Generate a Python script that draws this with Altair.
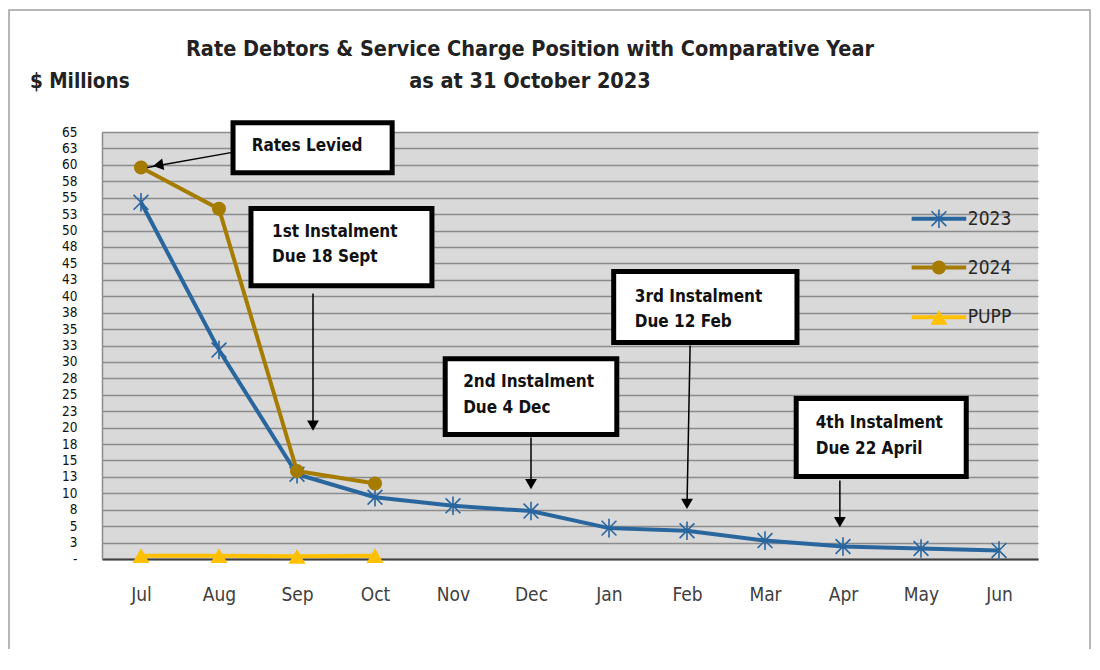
import altair as alt
import pandas as pd

months = ["Jul", "Aug", "Sep", "Oct", "Nov", "Dec", "Jan", "Feb", "Mar", "Apr", "May", "Jun"]
y2023 = [54.3, 31.8, 12.9, 9.4, 8.1, 7.3, 4.7, 4.3, 2.8, 1.9, 1.6, 1.3]
y2024 = [59.6, 53.3, 13.4, 11.5]
pupp = [0.5, 0.5, 0.4, 0.5]

series_names = ["2023", "2024", "PUPP"]
series_colors = ["#2a669e", "#a67c00", "#ffc000"]

# annotation boxes (x in month index units, y in $ millions)
box_x1 = [1.18, 1.41, 3.90, 6.06, 8.40]
box_x2 = [3.22, 3.73, 6.10, 8.41, 10.58]
box_y1 = [66.4, 53.35, 30.5, 43.76, 24.43]
box_y2 = [58.8, 41.6, 18.95, 32.95, 12.56]

label_text = ["1st Instalment", "Due 18 Sept", "2nd Instalment", "Due 4 Dec",
              "3rd Instalment", "Due 12 Feb", "4th Instalment", "Due 22 April"]
label_x = [1.68, 1.68, 4.13, 4.13, 6.33, 6.33, 8.65, 8.65]
label_y = [49.85, 46.0, 27.0, 23.06, 39.95, 36.15, 20.7, 16.7]

rates_text = ["Rates Levied"]
rates_x = [2.13]
rates_y = [62.9]

arrow_x1 = [1.17, 2.205, 5.0, 7.04, 8.96]
arrow_y1 = [61.9, 40.4, 18.5, 32.5, 11.95]
arrow_x2 = [0.08, 2.205, 5.0, 7.0, 8.96]
arrow_y2 = [59.6, 20.0, 11.0, 8.1, 5.3]
head_x = [0.22, 2.205, 5.0, 7.0, 8.96]
head_y = [59.95, 20.3, 11.4, 8.4, 5.6]
head_angle = [260, 180, 180, 180, 180]

legend_x1 = [9.88, 9.88, 9.88]
legend_x2 = [10.58, 10.58, 10.58]
legend_xm = [10.23, 10.23, 10.23]
legend_y = [51.8, 44.37, 36.8]
legend_tx = [10.6, 10.6, 10.6]

y_ticks = [i * 2.5 for i in range(27)]

FONT = "Liberation Sans Narrow, DejaVu Sans Condensed, Liberation Sans"
ASTERISK = "M-1,-1L1,1M-1,1L1,-1M0,-1.25L0,1.25"

rows = []
for i, v in enumerate(y2023):
    rows.append({"idx": i, "value": v, "series": "2023"})
for i, v in enumerate(y2024):
    rows.append({"idx": i, "value": v, "series": "2024"})
for i, v in enumerate(pupp):
    rows.append({"idx": i, "value": v, "series": "PUPP"})
df = pd.DataFrame(rows)

xscale = alt.Scale(domain=[-0.5, 11.5], nice=False, zero=False)
yscale = alt.Scale(domain=[0, 65], nice=False)
month_expr = "[" + ",".join("'%s'" % m for m in months) + "][datum.value]"

xaxis = alt.Axis(values=list(range(12)), labelExpr=month_expr, grid=False,
                 ticks=False, domainColor="#404040", domainWidth=2,
                 labelFontSize=19, labelColor="#404040", labelPadding=26,
                 labelFont=FONT, title=None)
yaxis = alt.Axis(values=y_ticks,
                 labelExpr="datum.value == 0 ? '-' : format(round(datum.value), 'd')",
                 labelOverlap=False, grid=True, gridColor="#8c8c8c", gridWidth=1.5,
                 ticks=False, domainColor="#8c8c8c", domainWidth=1.5,
                 labelFontSize=13.5, labelColor="#111111", labelPadding=25,
                 labelFont=FONT, labelBaseline="middle", title=None)


def X(f):
    return alt.X(f + ":Q", scale=xscale, axis=xaxis, title=None)


def Y(f):
    return alt.Y(f + ":Q", scale=yscale, axis=yaxis, title=None)


def X2(f):
    return alt.X2(f + ":Q")


def Y2(f):
    return alt.Y2(f + ":Q")


color = alt.Color("series:N", scale=alt.Scale(domain=series_names, range=series_colors), legend=None)

lines = alt.Chart(df).mark_line(strokeWidth=4).encode(x=X("idx"), y=Y("value"), color=color)

p23 = alt.Chart(df[df.series == "2023"]).mark_point(
    shape=ASTERISK, filled=False, size=220, strokeWidth=1.6, color=series_colors[0], opacity=1
).encode(x=X("idx"), y=Y("value"))
p24 = alt.Chart(df[df.series == "2024"]).mark_point(
    shape="circle", filled=True, size=200, color=series_colors[1], opacity=1
).encode(x=X("idx"), y=Y("value"))
pp = alt.Chart(df[df.series == "PUPP"]).mark_point(
    shape="triangle-up", filled=True, size=290, color=series_colors[2], opacity=1
).encode(x=X("idx"), y=Y("value"))

boxes_df = pd.DataFrame({"x1": box_x1, "x2": box_x2, "y1": box_y1, "y2": box_y2})
boxes = alt.Chart(boxes_df).mark_rect(fill="white", stroke="black", strokeWidth=5).encode(
    x=X("x1"), x2=X2("x2"), y=Y("y1"), y2=Y2("y2"))

labels_df = pd.DataFrame({"t": label_text, "x": label_x, "y": label_y})
labels = alt.Chart(labels_df).mark_text(
    align="left", baseline="middle", font=FONT, fontSize=17, fontWeight="bold", color="#111111"
).encode(x=X("x"), y=Y("y"), text="t:N")

rates_df = pd.DataFrame({"t": rates_text, "x": rates_x, "y": rates_y})
rates = alt.Chart(rates_df).mark_text(
    align="center", baseline="middle", font=FONT, fontSize=17, fontWeight="bold", color="#111111"
).encode(x=X("x"), y=Y("y"), text="t:N")

arrows_df = pd.DataFrame({"x1": arrow_x1, "y1": arrow_y1, "x2": arrow_x2, "y2": arrow_y2,
                          "hx": head_x, "hy": head_y, "ang": head_angle})
arrow_lines = alt.Chart(arrows_df).mark_rule(color="black", strokeWidth=1.5).encode(
    x=X("x1"), y=Y("y1"), x2=X2("x2"), y2=Y2("y2"))
arrow_heads = alt.Chart(arrows_df).mark_point(
    shape="triangle-up", filled=True, color="black", size=140, opacity=1
).encode(x=X("hx"), y=Y("hy"), angle=alt.Angle("ang:Q", scale=None))

leg_df = pd.DataFrame({"series": series_names, "x1": legend_x1, "x2": legend_x2,
                       "xm": legend_xm, "y": legend_y, "tx": legend_tx})
leg_lines = alt.Chart(leg_df).mark_rule(strokeWidth=4).encode(
    x=X("x1"), x2=X2("x2"), y=Y("y"), color=color)
leg_p23 = alt.Chart(leg_df[leg_df.series == "2023"]).mark_point(
    shape=ASTERISK, filled=False, size=220, strokeWidth=1.6, color=series_colors[0], opacity=1
).encode(x=X("xm"), y=Y("y"))
leg_p24 = alt.Chart(leg_df[leg_df.series == "2024"]).mark_point(
    shape="circle", filled=True, size=200, color=series_colors[1], opacity=1
).encode(x=X("xm"), y=Y("y"))
leg_pp = alt.Chart(leg_df[leg_df.series == "PUPP"]).mark_point(
    shape="triangle-up", filled=True, size=290, color=series_colors[2], opacity=1
).encode(x=X("xm"), y=Y("y"))
leg_text = alt.Chart(leg_df).mark_text(
    align="left", baseline="middle", font=FONT, fontSize=19, color="#262626"
).encode(x=X("tx"), y=Y("y"), text="series:N")

one = pd.DataFrame({"a": [0]})
frame = alt.Chart(one).mark_rect(fill=None, stroke="#a0a0a0", strokeWidth=1.5).encode(
    x=alt.value(-93), x2=alt.value(988), y=alt.value(-122), y2=alt.value(640))
title1 = alt.Chart(one).mark_text(
    align="center", baseline="middle", font=FONT, fontSize=21.5, fontWeight="bold", color="#222222"
).encode(x=alt.value(428), y=alt.value(-82), text=alt.value("Rate Debtors & Service Charge Position with Comparative Year"))
title2 = alt.Chart(one).mark_text(
    align="center", baseline="middle", font=FONT, fontSize=21.5, fontWeight="bold", color="#222222"
).encode(x=alt.value(428), y=alt.value(-50), text=alt.value("as at 31 October 2023"))
ylab = alt.Chart(one).mark_text(
    align="left", baseline="middle", font=FONT, fontSize=20.5, fontWeight="bold", color="#222222"
).encode(x=alt.value(-72), y=alt.value(-50), text=alt.value("$ Millions"))

chart = alt.layer(
    lines, p23, p24, pp, arrow_lines, arrow_heads, boxes, labels, rates,
    leg_lines, leg_p23, leg_p24, leg_pp, leg_text, frame, title1, title2, ylab
).properties(
    width=936, height=427,
    autosize=alt.AutoSizeParams(type="none"),
    padding={"left": 94, "top": 124, "right": 54, "bottom": 90},
    background="white",
).configure_view(fill="#d9d9d9", stroke=None)

chart.save("out.html", embed_options={"renderer": "svg", "actions": False})
